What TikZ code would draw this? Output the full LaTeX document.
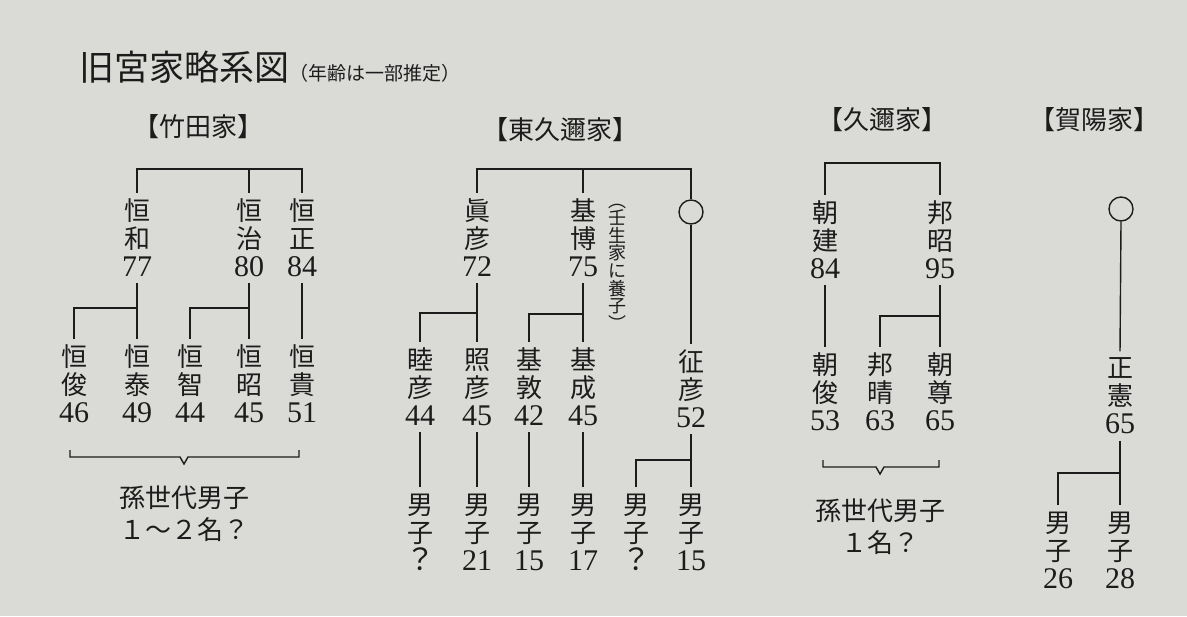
\documentclass[tikz,border=0pt]{standalone}
\usepackage{fontspec}
\setmainfont{Liberation Serif}
\newfontfamily\jp{Noto Sans CJK JP}
\definecolor{bg}{RGB}{218,219,215}
\definecolor{ink}{RGB}{28,28,28}
\newcommand\nm[3]{{\jp #1}\\{\jp #2}\\{\fontsize{15}{14}\selectfont #3}}
\begin{document}
\begin{tikzpicture}[x=0.5pt,y=-0.5pt,
  every node/.style={text=ink},
  person/.style={align=center,inner sep=3pt,font=\fontsize{13}{14}\selectfont},
  head/.style={font=\jp\fontsize{13}{15}\selectfont},
  note/.style={align=center,font=\jp\fontsize{13}{16}\selectfont},
  link/.style={draw=ink,line width=0.7pt},
  unk/.style={circle,draw=ink,line width=0.7pt,minimum size=12pt,inner sep=0pt}]
\fill[bg] (0,0) rectangle (1187,616);
\useasboundingbox (0,0) rectangle (1187,616);
% title
\node[anchor=base west,inner sep=0] (title) at (79,80) {\jp\fontsize{17.5}{20}\selectfont 旧宮家略系図\fontsize{9.5}{11}\selectfont （年齢は一部推定）};
% headers
\node[head] (h1) at (198,127) {【竹田家】};
\node[head] (h2) at (560,130) {【東久邇家】};
\node[head] (h3) at (882,120) {【久邇家】};
\node[head] (h4) at (1094,120) {【賀陽家】};
% Takeda
\node[person] (kazu) at (137,238) {\nm{恒}{和}{77}};
\node[person] (haru) at (249,238) {\nm{恒}{治}{80}};
\node[person] (masa) at (302,238) {\nm{恒}{正}{84}};
\node[person] (toshi) at (74,384) {\nm{恒}{俊}{46}};
\node[person] (yasu) at (137,384) {\nm{恒}{泰}{49}};
\node[person] (tomo) at (190,384) {\nm{恒}{智}{44}};
\node[person] (aki) at (249,384) {\nm{恒}{昭}{45}};
\node[person] (taka) at (302,384) {\nm{恒}{貴}{51}};
\draw[link] (kazu.north) -- (kazu.north|-0,169) -- (masa.north|-0,169) -- (masa.north);
\draw[link] (haru.north) -- (haru.north|-0,169);
\draw[link] (kazu.south) -- (yasu.north);
\draw[link] (toshi.north) -- (toshi.north|-0,308) -- (kazu.south|-0,308);
\draw[link] (haru.south) -- (aki.north);
\draw[link] (tomo.north) -- (tomo.north|-0,308) -- (haru.south|-0,308);
\draw[link] (masa.south) -- (taka.north);
\node[note] (tkg) at (184,514) {孫世代男子\\１～２名？};
\draw[link] (70,450) -- (70,457) -- (180,457) -- (184,464) -- (188,457) -- (299,457) -- (299,450);
% Higashikuni
\node[person] (mhk) at (477,238) {\nm{眞}{彦}{72}};
\node[person] (mth) at (583,238) {\nm{基}{博}{75}};
\node[unk] (hc) at (691,212) {};
\node[align=center,inner sep=0,font=\jp\fontsize{9}{8.8}\selectfont] (paren) at (617,267) {︵\\壬\\生\\家\\に\\養\\子\\︶};
\node[person] (mut) at (420,387) {\nm{睦}{彦}{44}};
\node[person] (ter) at (477,387) {\nm{照}{彦}{45}};
\node[person] (ats) at (529,387) {\nm{基}{敦}{42}};
\node[person] (nar) at (583,387) {\nm{基}{成}{45}};
\node[person] (yuk) at (691,389) {\nm{征}{彦}{52}};
\draw[link] (mhk.north) -- (mhk.north|-0,169) -- (hc.north|-0,169) -- (hc.north);
\draw[link] (mth.north) -- (mth.north|-0,169);
\draw[link] (hc.south) -- (yuk.north);
\draw[link] (mhk.south) -- (ter.north);
\draw[link] (mut.north) -- (mut.north|-0,313) -- (mhk.south|-0,313);
\draw[link] (mth.south) -- (nar.north);
\draw[link] (ats.north) -- (ats.north|-0,314) -- (mth.south|-0,314);
\node[person] (g1) at (420,532) {\nm{男}{子}{\jp ？}};
\node[person] (g2) at (477,532) {\nm{男}{子}{21}};
\node[person] (g3) at (529,532) {\nm{男}{子}{15}};
\node[person] (g4) at (583,532) {\nm{男}{子}{17}};
\node[person] (g5) at (636,532) {\nm{男}{子}{\jp ？}};
\node[person] (g6) at (691,532) {\nm{男}{子}{15}};
\draw[link] (mut.south) -- (g1.north);
\draw[link] (ter.south) -- (g2.north);
\draw[link] (ats.south) -- (g3.north);
\draw[link] (nar.south) -- (g4.north);
\draw[link] (yuk.south) -- (g6.north);
\draw[link] (g5.north) -- (g5.north|-0,460) -- (yuk.south|-0,460);
% Kuni
\node[person] (tat) at (825,240) {\nm{朝}{建}{84}};
\node[person] (kun) at (940,240) {\nm{邦}{昭}{95}};
\node[person] (kt) at (825,392) {\nm{朝}{俊}{53}};
\node[person] (kh) at (880,392) {\nm{邦}{晴}{63}};
\node[person] (kk) at (940,392) {\nm{朝}{尊}{65}};
\draw[link] (tat.north) -- (tat.north|-0,163) -- (kun.north|-0,163) -- (kun.north);
\draw[link] (tat.south) -- (kt.north);
\draw[link] (kun.south) -- (kk.north);
\draw[link] (kh.north) -- (kh.north|-0,316) -- (kun.south|-0,316);
\draw[link] (823,460) -- (823,467) -- (876,467) -- (880,474) -- (884,467) -- (939,467) -- (939,460);
\node[note] (kng) at (880,527) {孫世代男子\\１名？};
% Kaya
\node[unk] (kc) at (1121,209) {};
\node[person] (msn) at (1120,396) {\nm{正}{憲}{65}};
\node[person] (g7) at (1058,550) {\nm{男}{子}{26}};
\node[person] (g8) at (1120,550) {\nm{男}{子}{28}};
\draw[link] (kc.south) -- (msn.north);
\draw[link] (msn.south) -- (g8.north);
\draw[link] (g7.north) -- (g7.north|-0,473) -- (msn.south|-0,473);
\end{tikzpicture}
\end{document}
